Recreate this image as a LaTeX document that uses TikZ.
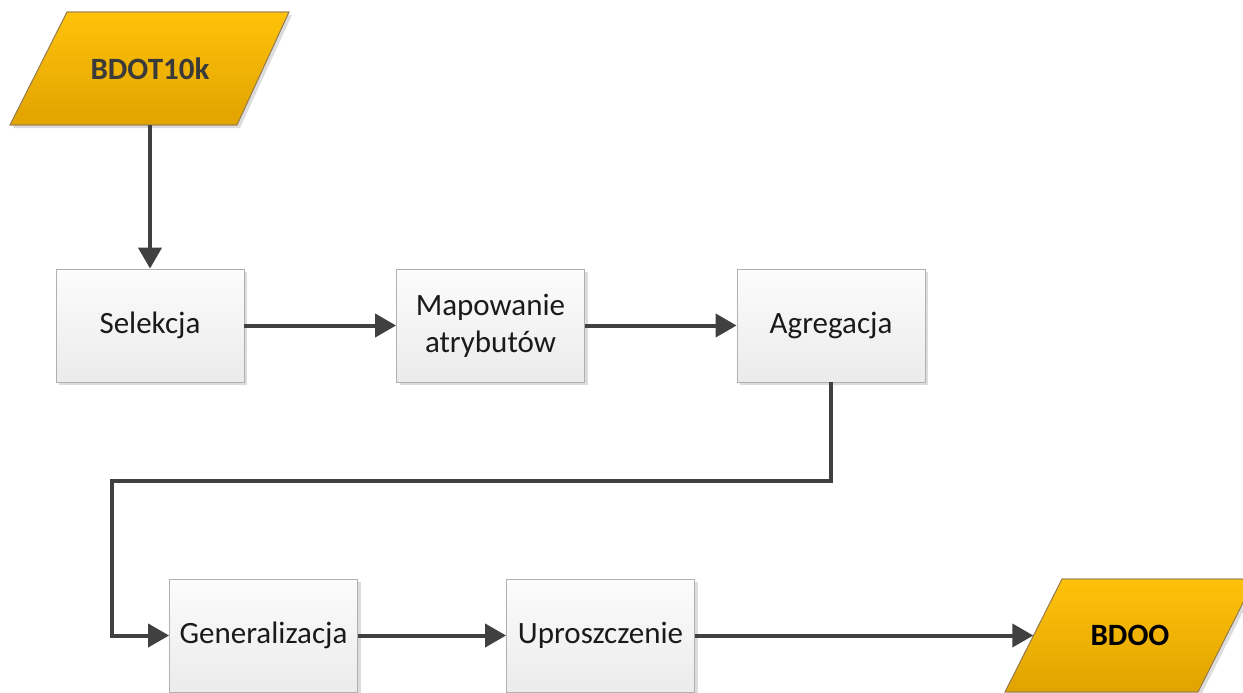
\documentclass[tikz,border=0pt]{standalone}
\usepackage{fontspec}
\setmainfont{Carlito}
\usetikzlibrary{arrows.meta,shadows}
\definecolor{arr}{HTML}{404040}
\definecolor{boxtop}{HTML}{FCFCFC}
\definecolor{boxbot}{HTML}{EBEBEB}
\definecolor{boxline}{HTML}{B0B0B0}
\definecolor{goldtop}{HTML}{FFC20A}
\definecolor{goldbot}{HTML}{E0A300}
\definecolor{goldline}{HTML}{9A8050}
\definecolor{txt}{HTML}{1A1A1A}
\definecolor{datatxt}{HTML}{3A3A3A}
\tikzset{
  proc/.style={rectangle, minimum width=188pt, minimum height=113pt, inner sep=0pt,
    top color=boxtop, bottom color=boxbot, draw=boxline, line width=0.8pt,
    drop shadow={shadow xshift=3pt, shadow yshift=-3pt, fill=black!30, opacity=0.45},
    text=txt, align=center, font=\fontsize{31}{37}\selectfont},
  datatext/.style={rectangle, inner sep=0pt, minimum height=113pt,
    font=\fontsize{31}{37}\selectfont\bfseries},
  para/.style={top color=goldtop, bottom color=goldbot, draw=goldline, line width=0.8pt},
  parashadow/.style={fill=black!30, opacity=0.45},
  arrow/.style={draw=arr, line width=4pt, line join=miter,
    -{Triangle[length=21pt,width=23pt]}}
}
\begin{document}
\begin{tikzpicture}[x=1pt,y=-1pt]
\useasboundingbox (0,0) rectangle (1243,693);
% input parallelogram
\fill[parashadow] (70,15) -- (292,15) -- (240,128) -- (13,128) -- cycle;
\shade[para] (67,12) -- (289,12) -- (237,125) -- (10,125) -- cycle;
\draw[goldline, line width=0.8pt] (67,12) -- (289,12) -- (237,125) -- (10,125) -- cycle;
\node[datatext, text=datatxt, minimum width=222pt] (bdot) at (150,68.5) {BDOT10k};
% output parallelogram
\fill[parashadow] (1065,582) -- (1258,582) -- (1201,695) -- (1008,695) -- cycle;
\shade[para] (1062,579) -- (1255,579) -- (1198,692) -- (1005,692) -- cycle;
\draw[goldline, line width=0.8pt] (1062,579) -- (1255,579) -- (1198,692) -- (1005,692) -- cycle;
\node[datatext, text=black, minimum width=193pt] (bdoo) at (1130,635.5) {BDOO};
% process boxes
\node[proc] (sel) at (150,325.5) {Selekcja};
\node[proc] (map) at (490.5,325.5) {Mapowanie\\atrybutów};
\node[proc] (agr) at (831,325.5) {Agregacja};
\node[proc] (gen) at (263.5,635.5) {Generalizacja};
\node[proc] (upr) at (600.5,635.5) {Uproszczenie};
\coordinate (k1) at (112,481);
% connectors
\draw[arrow] (bdot.south) -- (sel.north);
\draw[arrow] (sel.east) -- (map.west);
\draw[arrow] (map.east) -- (agr.west);
\draw[arrow] (agr.south) |- (k1) |- (gen.west);
\draw[arrow] (gen.east) -- (upr.west);
\draw[arrow] (upr.east) -- (bdoo.west);
\end{tikzpicture}
\end{document}
